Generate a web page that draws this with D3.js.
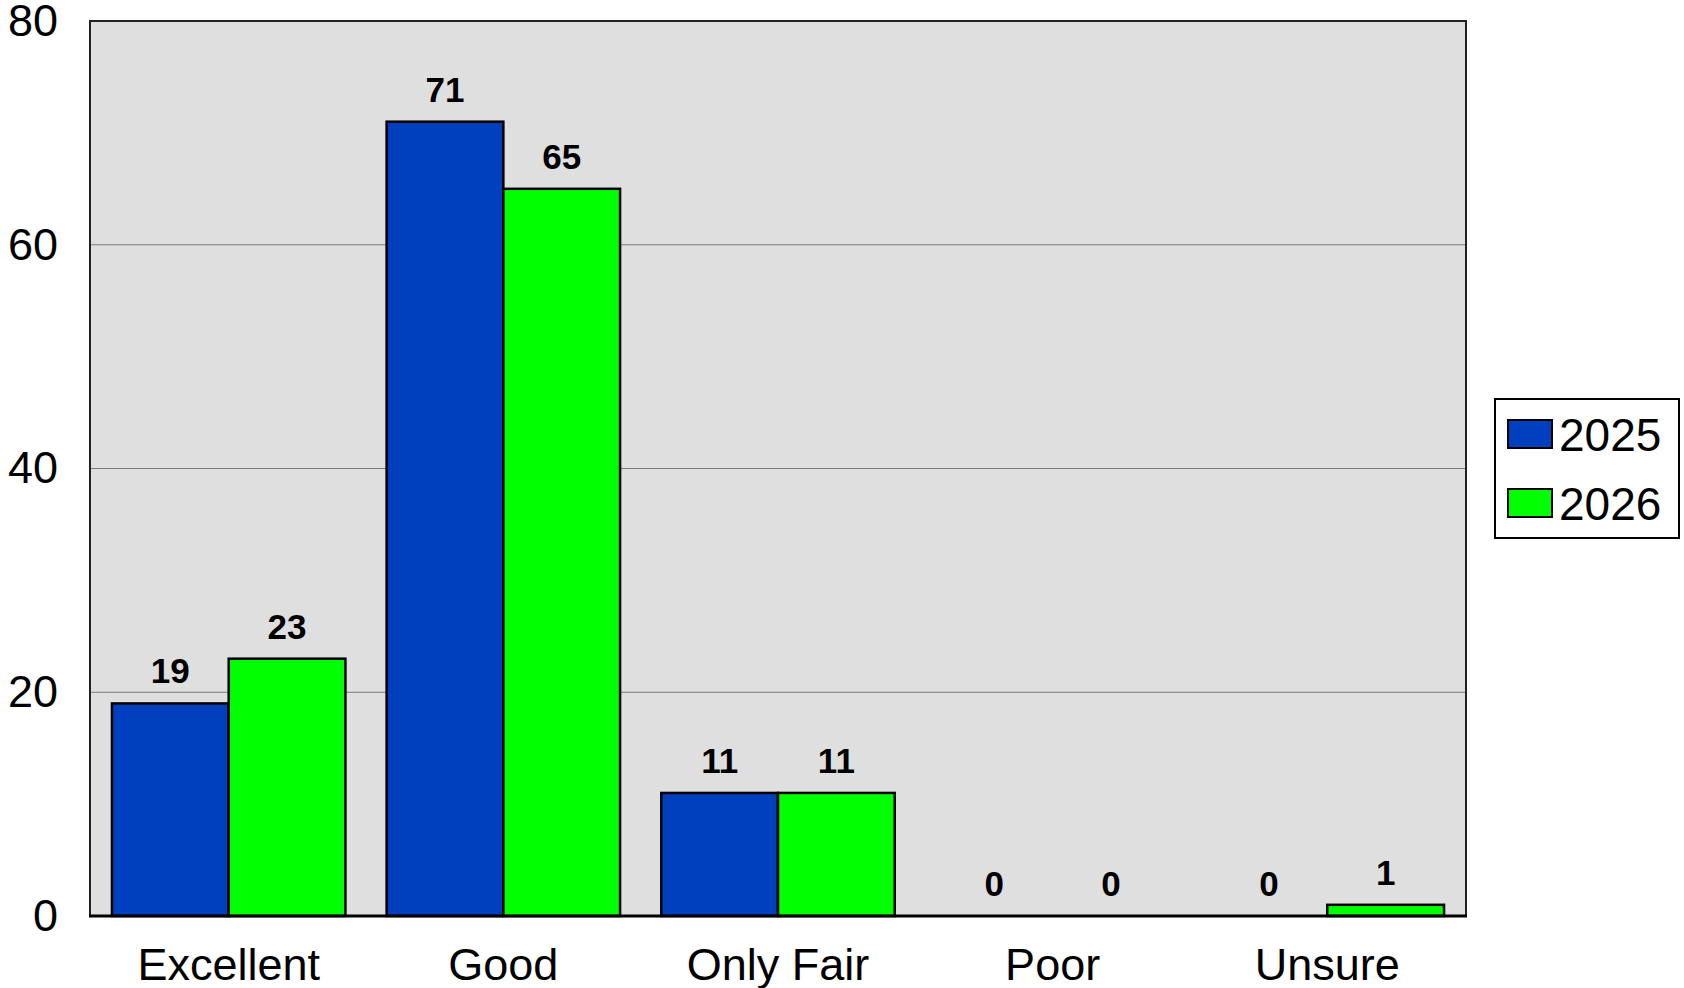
<!DOCTYPE html>
<html lang="en">
<head>
    <meta charset="UTF-8">
    <title>Rating 2025 vs 2026</title>
    <style>
        body { margin: 0; background: #fff; }
        svg text { font-family: Arial, "Liberation Sans", sans-serif; }
    </style>
</head>
<body>
    <div id="container"></div>

    <script type="text/javascript" src="https://d3js.org/d3.v7.min.js"></script>
    <script type="text/javascript">
        var categories = ["Excellent", "Good", "Only Fair", "Poor", "Unsure"];
        var seriesNames = ["2025", "2026"];
        var values2025 = [19, 71, 11, 0, 0];
        var values2026 = [23, 65, 11, 0, 1];
        var yTicks = [0, 20, 40, 60, 80];
        var colors = ["#0040bf", "#00ff00"];

        var width = 1684, height = 988;
        var plot = { left: 90, right: 1466, top: 21, bottom: 916 };

        var svg = d3.select("#container")
            .append("svg")
            .attr("width", width)
            .attr("height", height);

        var x = d3.scaleBand()
            .domain(categories)
            .range([plot.left, plot.right])
            .paddingInner(0.15)
            .paddingOuter(0.08);

        var xSeries = d3.scaleBand()
            .domain(seriesNames)
            .range([0, x.bandwidth()]);

        var y = d3.scaleLinear()
            .domain([0, 80])
            .range([plot.bottom, plot.top]);

        // Plot background.
        svg.append("rect")
            .attr("x", plot.left)
            .attr("y", plot.top)
            .attr("width", plot.right - plot.left)
            .attr("height", plot.bottom - plot.top)
            .attr("fill", "#dfdfdf");

        // Gridlines.
        svg.append("g")
            .selectAll("line")
            .data(yTicks.filter(function(d) { return d > 0 && d < 80; }))
            .enter()
            .append("line")
            .attr("x1", plot.left)
            .attr("x2", plot.right)
            .attr("y1", function(d) { return y(d); })
            .attr("y2", function(d) { return y(d); })
            .attr("stroke", "#7a7a7a")
            .attr("stroke-width", 1.2);

        // Plot frame (left, top, right).
        svg.append("path")
            .attr("d", "M" + plot.left + "," + plot.bottom + "V" + plot.top + "H" + plot.right + "V" + plot.bottom)
            .attr("fill", "none")
            .attr("stroke", "#222")
            .attr("stroke-width", 2);

        // Y axis labels.
        var yAxis = d3.axisLeft(y)
            .tickValues(yTicks)
            .tickSize(0)
            .tickPadding(32);

        svg.append("g")
            .attr("transform", "translate(" + plot.left + ",0)")
            .call(yAxis)
            .call(function(g) {
                g.select(".domain").remove();
                g.selectAll("text")
                    .attr("font-size", 45)
                    .attr("fill", "#000")
                    .attr("font-family", "Arial, 'Liberation Sans', sans-serif");
            });

        // Build rows for the bars.
        var rows = categories.map(function(c, i) {
            return { category: c, values: [values2025[i], values2026[i]] };
        });

        var groups = svg.append("g")
            .selectAll("g.cat")
            .data(rows)
            .enter()
            .append("g")
            .attr("class", "cat")
            .attr("transform", function(d) { return "translate(" + x(d.category) + ",0)"; });

        var bars = groups.selectAll("g.bar")
            .data(function(d) {
                return seriesNames.map(function(s, j) {
                    return { series: s, value: d.values[j], color: colors[j] };
                });
            })
            .enter()
            .append("g")
            .attr("class", "bar");

        bars.append("rect")
            .attr("x", function(d) { return xSeries(d.series); })
            .attr("y", function(d) { return y(d.value); })
            .attr("width", xSeries.bandwidth())
            .attr("height", function(d) { return y(0) - y(d.value); })
            .attr("fill", function(d) { return d.color; })
            .attr("stroke", "#000")
            .attr("stroke-width", 2.5);

        bars.append("text")
            .attr("x", function(d) { return xSeries(d.series) + xSeries.bandwidth() / 2; })
            .attr("y", function(d) { return y(d.value) - 20; })
            .attr("text-anchor", "middle")
            .attr("font-size", 35)
            .attr("font-weight", "bold")
            .attr("fill", "#000")
            .text(function(d) { return d.value; });

        // X axis baseline.
        svg.append("line")
            .attr("x1", plot.left - 1)
            .attr("x2", plot.right + 1)
            .attr("y1", plot.bottom)
            .attr("y2", plot.bottom)
            .attr("stroke", "#000")
            .attr("stroke-width", 3);

        // Category labels.
        var xAxis = d3.axisBottom(x).tickSize(0).tickPadding(32);
        svg.append("g")
            .attr("transform", "translate(0," + plot.bottom + ")")
            .call(xAxis)
            .call(function(g) {
                g.select(".domain").remove();
                g.selectAll("text")
                    .attr("font-size", 45)
                    .attr("fill", "#000")
                    .attr("font-family", "Arial, 'Liberation Sans', sans-serif");
            });

        // Legend.
        var legend = svg.append("g").attr("class", "legend");
        legend.append("rect")
            .attr("x", 1495)
            .attr("y", 399)
            .attr("width", 184)
            .attr("height", 139)
            .attr("fill", "#fff")
            .attr("stroke", "#000")
            .attr("stroke-width", 2);

        var items = legend.selectAll("g.item")
            .data(seriesNames)
            .enter()
            .append("g")
            .attr("class", "item")
            .attr("transform", function(d, i) { return "translate(1508," + (420 + i * 69) + ")"; });

        items.append("rect")
            .attr("width", 44)
            .attr("height", 28)
            .attr("fill", function(d, i) { return colors[i]; })
            .attr("stroke", "#000")
            .attr("stroke-width", 2);

        items.append("text")
            .attr("x", 51)
            .attr("y", 31)
            .attr("font-size", 46)
            .attr("fill", "#000")
            .text(function(d) { return d; });
    </script>
</body>
</html>
